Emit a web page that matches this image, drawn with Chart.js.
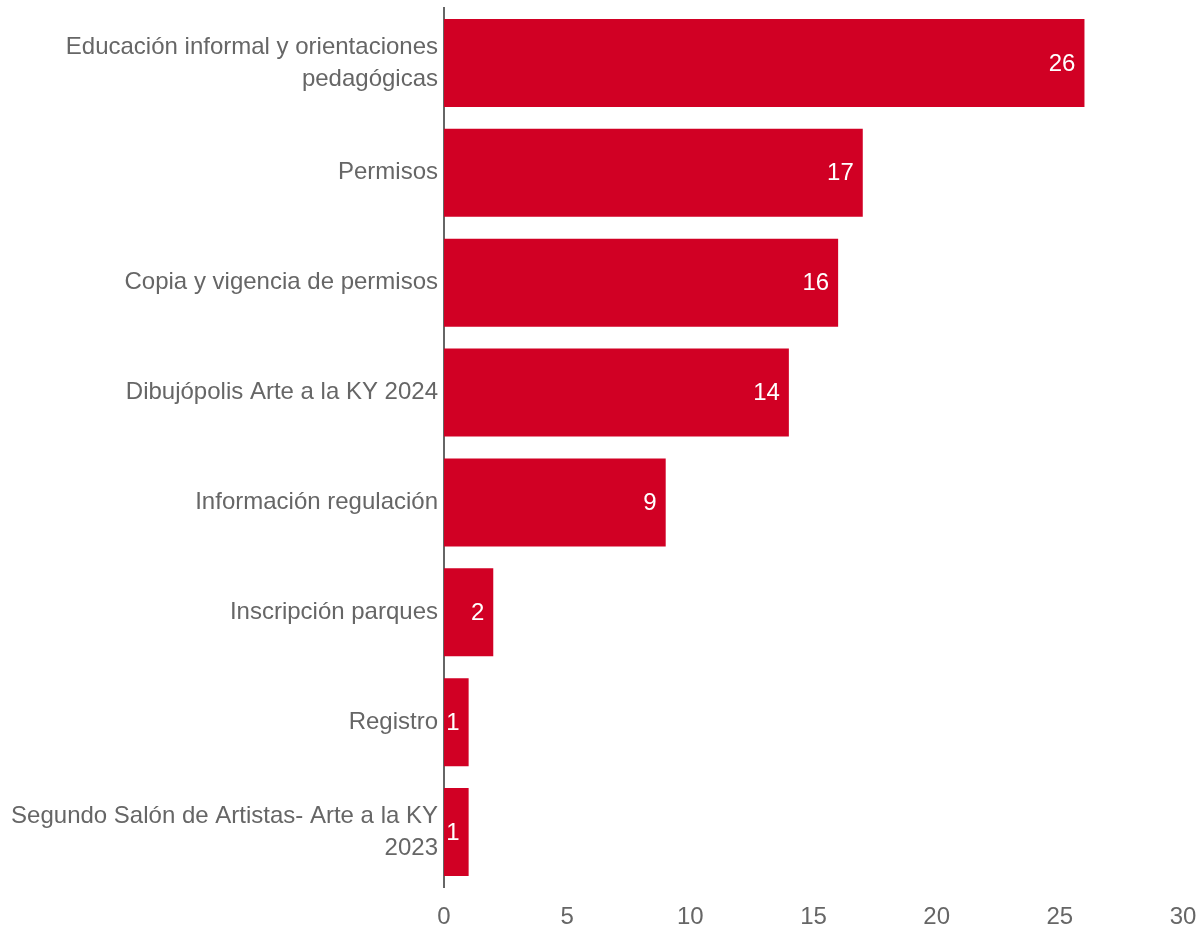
<!DOCTYPE html>
<html>
<head>
<meta charset="utf-8">
<script src="https://cdn.jsdelivr.net/npm/chart.js@4/dist/chart.umd.min.js"></script>
<style>
  html, body { margin: 0; padding: 0; background: #fff; }
  #wrap { width: 1198px; height: 925px; }
</style>
</head>
<body>
<div id="wrap"><canvas id="chart"></canvas></div>
<script>
const categories = [
  ["Educación informal y orientaciones", "pedagógicas"],
  "Permisos",
  "Copia y vigencia de permisos",
  "Dibujópolis Arte a la KY 2024",
  "Información regulación",
  "Inscripción parques",
  "Registro",
  ["Segundo Salón de Artistas- Arte a la KY", "2023"],
];
const counts = [26, 17, 16, 14, 9, 2, 1, 1];
const xTicks = [0, 5, 10, 15, 20, 25, 30];

const barColor = "#D10024";
const textGrey = "#666666";
const fontFamily = "'Liberation Sans', Arial, sans-serif";

// white value labels drawn at the end of each bar
const valueLabels = {
  id: "valueLabels",
  afterDatasetsDraw(chart) {
    const { ctx } = chart;
    const meta = chart.getDatasetMeta(0);
    ctx.save();
    ctx.font = `24px ${fontFamily}`;
    ctx.fillStyle = "#ffffff";
    ctx.textAlign = "right";
    ctx.textBaseline = "middle";
    meta.data.forEach((bar, i) => {
      ctx.fillText(String(counts[i]), bar.x - 9, bar.y + 1);
    });
    ctx.restore();
  },
};

new Chart(document.getElementById("chart"), {
  type: "bar",
  data: {
    labels: categories,
    datasets: [
      {
        data: counts,
        backgroundColor: barColor,
        barPercentage: 0.8,
        categoryPercentage: 1.0,
      },
    ],
  },
  options: {
    indexAxis: "y",
    responsive: true,
    maintainAspectRatio: false,
    animation: false,
    layout: { padding: { top: 8, right: 15, left: 0, bottom: 0 } },
    plugins: {
      legend: { display: false },
      tooltip: { enabled: false },
    },
    scales: {
      x: {
        min: 0,
        max: 30,
        afterBuildTicks: (scale) => {
          scale.ticks = xTicks.map((v) => ({ value: v }));
        },
        afterFit: (scale) => {
          scale.height = 38;
          scale.paddingLeft = 0;
          scale.paddingRight = 0;
        },
        grid: { display: false, drawTicks: false },
        border: { display: false },
        ticks: {
          color: textGrey,
          font: { family: fontFamily, size: 24 },
          padding: 16,
          maxRotation: 0,
        },
      },
      y: {
        afterFit: (scale) => {
          scale.width = 444;
          scale.paddingTop = 0;
          scale.paddingBottom = 0;
        },
        grid: { display: false, drawTicks: false },
        border: { display: true, color: textGrey, width: 2 },
        ticks: {
          color: textGrey,
          font: { family: fontFamily, size: 24, lineHeight: 1.33 },
          padding: 6,
        },
      },
    },
  },
  plugins: [valueLabels],
});
</script>
</body>
</html>
